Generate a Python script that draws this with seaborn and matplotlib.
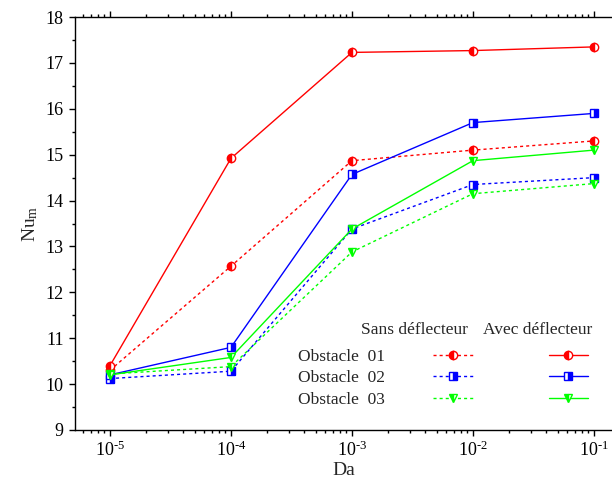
import numpy as np
import pandas as pd
import seaborn as sns
import matplotlib.pyplot as plt
from matplotlib.lines import Line2D
from matplotlib.ticker import LogLocator, MultipleLocator, NullFormatter, FuncFormatter

# data
da = [1e-5, 1e-4, 1e-3, 1e-2, 1e-1]

sans_01 = [10.30, 12.57, 14.87, 15.10, 15.30]
sans_02 = [10.12, 10.28, 13.38, 14.35, 14.50]
sans_03 = [10.22, 10.38, 12.88, 14.15, 14.37]

avec_01 = [10.40, 14.92, 17.23, 17.27, 17.35]
avec_02 = [10.20, 10.80, 14.57, 15.70, 15.90]
avec_03 = [10.20, 10.58, 13.38, 14.87, 15.10]

obstacles = ["Obstacle  01", "Obstacle  02", "Obstacle  03"]
colors = ["#ff0000", "#0000ff", "#00ff00"]
markers = ["o", "s", "v"]
fills = ["left", "right", "left"]

sns.set_style("ticks")
plt.rcParams["font.family"] = ["Liberation Serif", "DejaVu Serif"]
plt.rcParams["mathtext.fontset"] = "custom"
plt.rcParams["mathtext.rm"] = "Liberation Serif"
plt.rcParams["mathtext.it"] = "Liberation Serif:italic"

fig = plt.figure(figsize=(6.12, 4.88), dpi=100)
ax = fig.add_axes([0.1225, 0.119, 0.8775, 0.846])

dash = (0, (2.2, 2.2))
handles_sans, handles_avec = [], []
for i in range(3):
    for vals, ls, store in [([sans_01, sans_02, sans_03][i], dash, handles_sans),
                            ([avec_01, avec_02, avec_03][i], "-", handles_avec)]:
        style = dict(color=colors[i], marker=markers[i], fillstyle=fills[i],
                     markerfacecolor=colors[i], markerfacecoloralt="white",
                     markeredgecolor=colors[i], markeredgewidth=1.0,
                     markersize=6, linewidth=1.0, linestyle=ls)
        df = pd.DataFrame({"Da": da, "Nu": vals})
        sns.lineplot(data=df, x="Da", y="Nu", ax=ax, **style)
        store.append(Line2D([], [], **style))

ax.set_xscale("log")
ax.set_xlim(10 ** -5.289, 10 ** -0.851)
ax.set_ylim(9, 18)
ax.yaxis.set_major_locator(MultipleLocator(1))
ax.yaxis.set_minor_locator(MultipleLocator(0.5))
ax.xaxis.set_major_locator(LogLocator(base=10, numticks=10))
ax.xaxis.set_minor_locator(LogLocator(base=10, subs=np.arange(2, 10), numticks=10))
ax.xaxis.set_minor_formatter(NullFormatter())
ax.xaxis.set_major_formatter(FuncFormatter(
    lambda v, p: r"10$^{\text{-%d}}$" % round(-np.log10(v))))

ax.spines["right"].set_visible(False)
for s in ["left", "bottom", "top"]:
    ax.spines[s].set_linewidth(1.0)
    ax.spines[s].set_color("black")
ax.tick_params(axis="both", which="both", direction="out", colors="black",
               labelsize=13, width=1.0)
ax.tick_params(axis="x", which="both", top=True)
ax.tick_params(which="major", length=4.5)
ax.tick_params(which="minor", length=2.5)

ax.set_xlabel("Da", fontsize=14, labelpad=1)
ax.set_ylabel(r"Nu$_{\mathregular{m}}$", fontsize=14, labelpad=4)

# legend laid out as a small table
handles = handles_sans + handles_avec
labels = obstacles + ["", "", ""]
ax.legend(handles, labels, ncol=2, markerfirst=False, frameon=False,
          loc="lower left", bbox_to_anchor=(0.415, 0.054), borderaxespad=0,
          borderpad=0, fontsize=12.5, handlelength=2.25, handletextpad=2.8,
          columnspacing=1.6, labelspacing=0.3)
ax.text(0.732, 0.242, "Sans déflecteur", transform=ax.transAxes,
        ha="right", va="center", fontsize=12.5)
ax.text(0.963, 0.242, "Avec déflecteur", transform=ax.transAxes,
        ha="right", va="center", fontsize=12.5)

fig.savefig("out.png", dpi=100)
